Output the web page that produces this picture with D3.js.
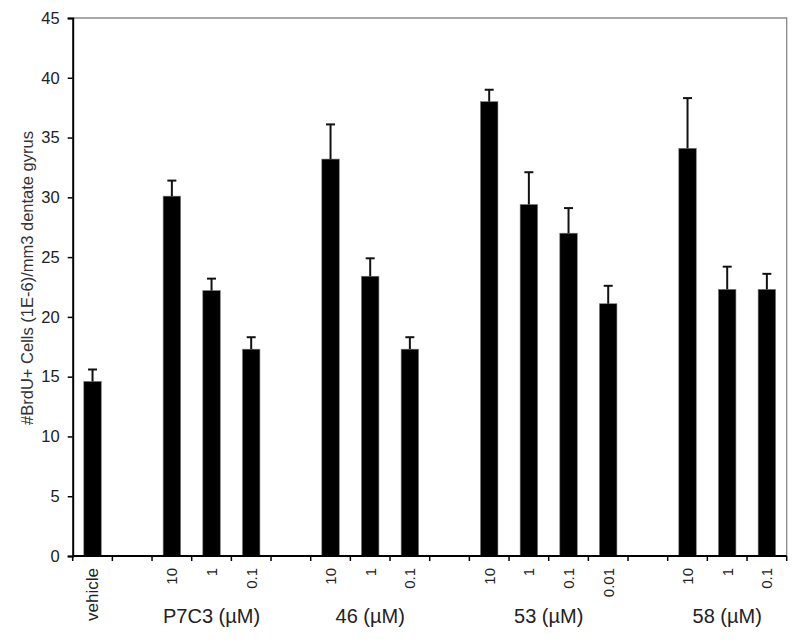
<!DOCTYPE html>
<html>
<head>
<meta charset="utf-8">
<script src="https://cdn.jsdelivr.net/npm/d3@7"></script>
<style>
    body { margin: 0; background: #fff; }
    svg { display: block; }
    text { font-family: Arial, "Liberation Sans", sans-serif; }
</style>
</head>
<body>
<div id="chart"></div>
<script>
// one slot per x position, empty slots are the gaps between groups
var tickLabels = ["vehicle", "", "10", "1", "0.1", "", "10", "1", "0.1", "", "10", "1", "0.1", "0.01", "", "10", "1", "0.1"];
var values = [14.6, null, 30.1, 22.2, 17.3, null, 33.2, 23.4, 17.3, null, 38.0, 29.4, 27.0, 21.1, null, 34.1, 22.3, 22.3];
var errors = [1.0, null, 1.3, 1.0, 1.0, null, 2.9, 1.5, 1.0, null, 1.0, 2.7, 2.1, 1.5, null, 4.2, 1.9, 1.3];
var groupLabels = ["P7C3 (\u00b5M)", "46 (\u00b5M)", "53 (\u00b5M)", "58 (\u00b5M)"];
var groupSlots = [[2, 4], [6, 8], [10, 13], [15, 17]];
var yTicks = [0, 5, 10, 15, 20, 25, 30, 35, 40, 45];

window.onload = function() {
    drawChart();
}

function drawChart() {
    var width = 800, height = 642;
    var left = 72.7, right = 786.7, top = 18, bottom = 556;

    var svg = d3.select('#chart')
        .append('svg')
        .attr('width', width)
        .attr('height', height);

    var slots = d3.range(tickLabels.length);

    var x = d3.scaleBand()
        .domain(slots)
        .range([left, right])
        .padding(0);

    var y = d3.scaleLinear()
        .domain([0, 45])
        .range([bottom, top]);

    var barW = x.bandwidth() * 0.44;

    // grey frame on top and right
    svg.append('path')
        .attr('d', 'M' + left + ',' + top + 'H' + right + 'V' + bottom)
        .attr('fill', 'none')
        .attr('stroke', '#8a8a8a')
        .attr('stroke-width', 1.3);

    var data = slots.filter(function(i) { return values[i] != null; });

    // bars
    svg.selectAll('.bar')
        .data(data)
        .enter()
        .append('rect')
        .attr('class', 'bar')
        .attr('x', function(i) { return x(i) + (x.bandwidth() - barW) / 2; })
        .attr('y', function(i) { return y(values[i]); })
        .attr('width', barW)
        .attr('height', function(i) { return y(0) - y(values[i]); })
        .attr('fill', '#000')
        .attr('stroke', '#777')
        .attr('stroke-width', 0.6);

    // error bars (upper only)
    var err = svg.selectAll('.err')
        .data(data)
        .enter()
        .append('g')
        .attr('class', 'err')
        .attr('stroke', '#111')
        .attr('stroke-width', 2);

    err.append('line')
        .attr('x1', function(i) { return x(i) + x.bandwidth() / 2; })
        .attr('x2', function(i) { return x(i) + x.bandwidth() / 2; })
        .attr('y1', function(i) { return y(values[i]); })
        .attr('y2', function(i) { return y(values[i] + errors[i]); });

    err.append('line')
        .attr('x1', function(i) { return x(i) + x.bandwidth() / 2 - 4.5; })
        .attr('x2', function(i) { return x(i) + x.bandwidth() / 2 + 4.5; })
        .attr('y1', function(i) { return y(values[i] + errors[i]); })
        .attr('y2', function(i) { return y(values[i] + errors[i]); });

    // y axis
    var yAxis = svg.append('g')
        .attr('transform', 'translate(' + left + ',0)')
        .call(d3.axisLeft(y).tickValues(yTicks).tickSize(5).tickPadding(8));
    yAxis.select('.domain').attr('stroke', '#000').attr('stroke-width', 2);
    yAxis.selectAll('.tick line').attr('stroke', '#000').attr('stroke-width', 1.5);
    yAxis.selectAll('.tick text')
        .attr('fill', '#222')
        .style('font-size', '16.5px');

    // x axis: ticks at slot boundaries
    var bounds = slots.map(function(i) { return x(i); }).concat([right]);
    svg.append('line')
        .attr('x1', left)
        .attr('x2', right)
        .attr('y1', bottom)
        .attr('y2', bottom)
        .attr('stroke', '#000')
        .attr('stroke-width', 2);

    svg.selectAll('.xtick')
        .data(bounds)
        .enter()
        .append('line')
        .attr('class', 'xtick')
        .attr('x1', function(d) { return d; })
        .attr('x2', function(d) { return d; })
        .attr('y1', bottom)
        .attr('y2', bottom + 5)
        .attr('stroke', '#000')
        .attr('stroke-width', 1.5);

    // rotated tick labels
    svg.selectAll('.xlabel')
        .data(slots.filter(function(i) { return tickLabels[i] !== ""; }))
        .enter()
        .append('text')
        .attr('class', 'xlabel')
        .attr('transform', function(i) {
            return 'translate(' + (x(i) + x.bandwidth() / 2 + 5.5) + ',' + (bottom + 12) + ') rotate(-90)';
        })
        .attr('text-anchor', 'end')
        .attr('fill', '#222')
        .style('font-size', function(i) { return i === 0 ? '17px' : '15px'; })
        .text(function(i) { return tickLabels[i]; });

    // group labels
    svg.selectAll('.glabel')
        .data(groupLabels)
        .enter()
        .append('text')
        .attr('class', 'glabel')
        .attr('x', function(d, g) {
            var a = groupSlots[g][0], b = groupSlots[g][1];
            return (x(a) + x(b) + x.bandwidth()) / 2;
        })
        .attr('y', 623)
        .attr('text-anchor', 'middle')
        .attr('fill', '#222')
        .style('font-size', '20px')
        .text(function(d) { return d; });

    // y axis title
    svg.append('text')
        .attr('transform', 'translate(33,278) rotate(-90)')
        .attr('text-anchor', 'middle')
        .attr('fill', '#333')
        .style('font-size', '16.5px')
        .text('#BrdU+ Cells (1E-6)/mm3 dentate gyrus');

    done("chart");
}

function done(func) {
    console.log("Done: " + func)
}
</script>
</body>
</html>
